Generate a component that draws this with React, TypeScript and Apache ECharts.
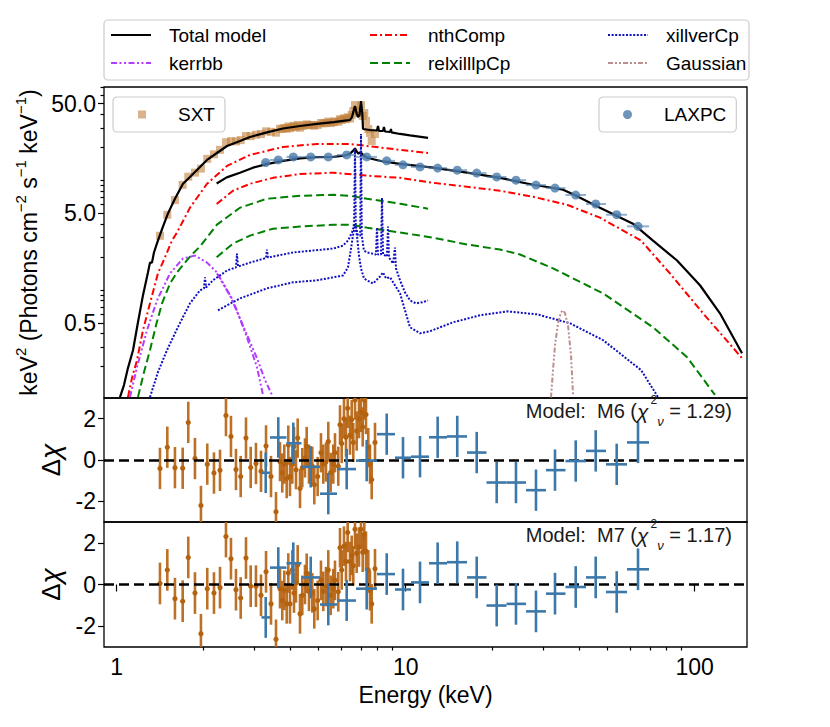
import { useEffect, useRef } from "react";
import * as echarts from "echarts";

const FONT = "'Liberation Sans', Arial, Helvetica, sans-serif";

// ---------- axis ranges & ticks ----------
const X_MIN = 0.904, X_MAX = 151.7;
const Y_MIN = 0.103, Y_MAX = 70.8;
const R_MIN = -3, R_MAX = 3;
const xMajor = [1, 10, 100];
const xMinor = [2, 3, 4, 5, 6, 7, 8, 9, 20, 30, 40, 50, 60, 70, 80, 90];
const yMajor = [0.5, 5, 50];
const yMinor = [0.2, 0.3, 0.4, 0.6, 0.7, 0.8, 0.9, 1, 2, 3, 4, 6, 7, 8, 9, 10, 20, 30, 40, 60, 70];
const rTicks = [-2, 0, 2];

// ---------- model curves (energy keV, keV^2 flux) ----------
const totSxtE = [1.027, 1.06, 1.094, 1.139, 1.185, 1.233, 1.283, 1.304, 1.325, 1.346, 1.389, 1.446, 1.504, 1.591, 1.696, 1.793, 1.896, 2.054, 2.223, 2.409, 2.671, 2.893, 3.31, 3.762, 4.309, 4.933, 5.63, 6.166, 6.417, 6.52, 6.6, 6.678, 6.758, 6.84, 6.92, 7.004, 7.076, 7.117, 7.525, 7.955, 8.02, 8.085, 8.35, 8.41, 8.48, 8.83, 8.897, 8.93, 9.56, 10.35, 11.95];
const totSxtV = [0.105, 0.135, 0.193, 0.281, 0.505, 0.889, 1.44, 1.77, 1.77, 2.19, 2.81, 3.77, 4.95, 6.77, 9.27, 10.7, 12.4, 15.3, 17.7, 20.5, 22.8, 24.8, 27.3, 29.6, 31.2, 32.6, 33.9, 35.0, 35.4, 37.7, 42.7, 47.5, 41.0, 37.7, 39.3, 52.7, 41.0, 29.3, 28.7, 28.4, 31.2, 28.1, 28.1, 30.6, 27.8, 27.5, 29.3, 27.3, 26.4, 25.6, 24.3];
const totLaxE = [2.218, 2.403, 2.671, 2.962, 3.304, 3.762, 4.309, 4.933, 5.63, 6.166, 6.417, 6.57, 6.678, 6.785, 6.867, 6.977, 7.089, 7.346, 8.35, 9.56, 12.43, 16.3, 21.2, 27.57, 32.86, 35.03, 37.94, 47.0, 61.16, 71.74, 86.87, 104.3, 122.3, 145.8];
const totLaxV = [9.33, 10.6, 11.7, 13.0, 14.0, 15.0, 15.8, 16.2, 16.3, 16.8, 17.4, 18.5, 19.5, 18.1, 17.4, 18.1, 17.2, 16.0, 14.8, 14.1, 13.0, 11.7, 10.5, 9.08, 8.44, 8.18, 7.44, 5.61, 4.01, 2.81, 1.85, 1.10, 0.61, 0.264];

const nthSxtE = [1.094, 1.13, 1.176, 1.233, 1.304, 1.389, 1.469, 1.553, 1.617, 1.793, 2.054, 2.409, 2.893, 3.762, 4.933, 6.417, 8.35, 11.95];
const nthSxtV = [0.105, 0.157, 0.228, 0.427, 0.752, 1.41, 1.97, 2.81, 3.33, 5.61, 9.27, 13.5, 17.0, 20.1, 21.4, 21.4, 19.7, 17.7];
const nthLaxE = [2.218, 2.526, 2.893, 3.473, 4.309, 5.63, 7.346, 9.56, 12.43, 16.3, 21.2, 27.57, 36.15, 47.0, 65.25, 82.1, 106.9, 145.8];
const nthLaxV = [6.06, 8.01, 9.27, 10.5, 11.4, 11.7, 11.0, 10.5, 9.47, 8.71, 8.01, 7.06, 5.97, 4.55, 2.81, 1.41, 0.61, 0.238];

const relSxtE = [1.185, 1.243, 1.304, 1.368, 1.435, 1.529, 1.617, 1.793, 1.942, 2.223, 2.671, 3.31, 4.309, 5.63, 6.417, 7.346, 9.56, 11.95];
const relSxtV = [0.105, 0.177, 0.281, 0.474, 0.752, 1.14, 1.44, 2.01, 2.48, 3.93, 5.61, 6.77, 7.21, 7.36, 7.21, 6.77, 6.10, 5.49];
const relLaxE = [2.218, 2.526, 2.893, 3.473, 4.309, 5.63, 6.417, 7.346, 9.56, 12.43, 16.3, 21.2, 24.86, 32.34, 48.2, 71.74, 94.1, 117.5];
const relLaxV = [1.98, 2.64, 3.12, 3.61, 3.77, 3.93, 3.93, 3.69, 3.33, 2.99, 2.59, 2.33, 2.10, 1.57, 0.927, 0.455, 0.243, 0.110];

const xilSxtE = [1.304, 1.389, 1.493, 1.628, 1.793, 1.942, 2.005, 2.021, 2.037, 2.154, 2.409, 2.587, 2.608, 2.629, 2.893, 3.287, 3.31, 3.339, 4.077, 5.63, 6.07, 6.313, 6.52, 6.63, 6.678, 6.72, 6.84, 6.96, 7.004, 7.05, 7.172, 7.346, 7.891, 7.955, 8.02, 8.215, 8.28, 8.35, 8.615, 8.685, 8.755, 9.05, 9.18, 9.256, 9.56, 9.945, 10.35, 10.85, 11.39, 11.95];
const xilSxtV = [0.105, 0.177, 0.281, 0.455, 0.752, 0.987, 1.03, 1.30, 1.05, 1.22, 1.50, 1.60, 2.14, 1.63, 1.77, 1.95, 2.33, 1.97, 2.19, 2.38, 2.53, 2.81, 3.33, 3.85, 19.3, 3.85, 3.12, 3.12, 26.4, 3.12, 2.28, 2.19, 2.10, 3.69, 2.10, 2.10, 6.92, 2.10, 2.01, 3.77, 1.97, 1.74, 2.43, 1.57, 1.22, 0.947, 0.80, 0.752, 0.768, 0.80];
const xilLaxE = [2.241, 2.671, 3.31, 4.077, 4.933, 6.07, 6.313, 6.453, 6.57, 6.678, 6.785, 6.893, 7.004, 7.172, 7.346, 7.706, 8.15, 8.35, 8.55, 8.83, 9.56, 9.945, 10.35, 11.21, 12.14, 14.58, 18.08, 22.41, 28.47, 37.03, 48.2, 65.25, 74.64];
const xilLaxV = [0.650, 0.835, 1.03, 1.17, 1.22, 1.35, 1.60, 2.28, 3.12, 3.85, 3.12, 2.05, 1.57, 1.27, 1.22, 1.14, 1.32, 1.44, 1.27, 1.30, 0.927, 0.650, 0.455, 0.401, 0.419, 0.505, 0.585, 0.636, 0.597, 0.495, 0.347, 0.185, 0.105];

const kerSxtE = [1.112, 1.176, 1.273, 1.379, 1.529, 1.696, 1.866, 2.054, 2.223, 2.526, 2.824, 3.058, 3.208];
const kerSxtV = [0.105, 0.197, 0.427, 0.80, 1.41, 1.93, 2.05, 1.77, 1.44, 0.80, 0.369, 0.197, 0.110];
const kerLaxE = [2.223, 2.466, 2.735, 3.058, 3.261, 3.446];
const kerLaxV = [1.41, 0.889, 0.474, 0.238, 0.150, 0.110];

const gauE = [31.83, 32.34, 32.86, 33.65, 34.46, 35.03, 35.59, 36.45, 37.33, 37.94];
const gauV = [0.104, 0.185, 0.312, 0.495, 0.623, 0.65, 0.61, 0.474, 0.253, 0.110];

// ---------- SXT data ----------
const sxtE = [1.412, 1.497, 1.591, 1.692, 1.769, 1.866, 1.957, 2.058, 2.171, 2.278, 2.389, 2.486, 2.587, 2.686, 2.802, 2.909, 3.034, 3.158, 3.287, 3.42, 3.559, 3.674, 3.741, 3.802, 3.875, 3.925, 3.978, 4.052, 4.107, 4.173, 4.23, 4.309, 4.388, 4.483, 4.544, 4.628, 4.751, 4.828, 4.96, 5.092, 5.187, 5.3, 5.398, 5.502, 5.617, 5.694, 5.846, 5.926, 6.006, 6.117, 6.215, 6.3, 6.417, 6.504, 6.588, 6.678, 6.768, 6.893, 7.004, 7.1, 7.19, 7.289, 7.424, 7.525, 7.628, 7.832];
const sxtFlux = [3.11, 4.83, 6.58, 9.06, 10.76, 11.72, 12.75, 15.65, 17.2, 18.9, 22.2, 22.7, 22.6, 23.2, 25.3, 25.2, 26.0, 26.4, 27.9, 27.6, 27.1, 29.4, 29.4, 29.9, 29.5, 30.9, 29.8, 30.5, 31.3, 30.5, 31.9, 30.1, 31.2, 31.7, 32.3, 31.8, 31.9, 31.4, 31.9, 33.2, 33.0, 33.2, 34.3, 33.2, 33.8, 34.4, 34.1, 36.0, 35.4, 36.7, 36.0, 37.5, 36.5, 39.3, 42.8, 48.4, 42.8, 41.0, 48.4, 38.5, 41.0, 34.7, 29.3, 27.0, 22.8, 26.4];
const sxtRes6 = [-0.41, 0.62, -0.37, -0.4, 1.82, 0.07, -2.2, -0.2, -0.63, -0.5, 2.15, 1.14, -0.46, -0.8, 1.06, -0.36, -0.17, -0.55, 0.68, -0.8, -2.5, -0.08, -0.63, -0.2, -0.9, 0.72, -0.8, -0.2, 0.65, -0.47, 1.06, -1.38, -0.37, 0.1, 0.65, -0.2, -0.3, -1.2, -0.8, 0.35, -0.2, -0.1, 0.9, -0.6, -0.2, 0.35, -0.3, 1.7, 0.8, 2.0, 1.1, 2.5, 1.2, 1.95, 0.85, 2.9, 1.4, 2.0, 2.3, 1.6, 2.9, 2.2, 0.6, -0.2, -0.95, 0.85];
const sxtRes7 = [0.05, 0.7, -0.68, -0.8, 1.3, -0.41, -2.36, -0.2, -0.41, -0.15, 2.3, 1.24, -0.25, -0.65, 1.27, -0.08, -0.08, -0.52, 0.61, -0.93, -2.63, -0.2, -0.77, -0.28, -0.93, 0.55, -0.93, 0.7, -0.41, 0.08, 0.94, -1.41, -0.52, 0, 0.54, -0.33, -0.4, -1.17, -0.77, 0.2, -0.33, -0.1, 0.7, -0.52, -0.2, 0.2, -0.35, 1.76, 0.7, 1.84, 1.1, 2.5, 1.1, 1.4, 0.9, 2.65, 1.5, 1.8, 2.65, 1.55, 2.4, 1.6, 0.7, -0.3, -0.93, 0.76];
const sxtErr = [1.0, 1.0, 1.0, 1.0, 1.0, 1.0, 0.95, 1.0, 1.0, 1.0, 1.0, 1.0, 1.0, 1.0, 1.0, 1.0, 1.0, 1.0, 1.0, 1.0, 0.95, 0.95, 0.95, 0.95, 0.95, 0.95, 0.95, 0.95, 0.95, 0.95, 0.95, 0.95, 0.95, 0.95, 0.95, 0.95, 0.95, 0.95, 0.95, 0.95, 0.95, 0.95, 0.95, 0.95, 0.95, 0.95, 0.95, 0.95, 0.95, 0.95, 0.95, 0.95, 0.95, 0.95, 0.95, 0.95, 0.95, 0.95, 0.95, 0.95, 0.95, 0.95, 0.95, 0.95, 0.95, 0.95];

// ---------- LAXPC data ----------
const laxE = [3.279, 3.624, 4.085, 4.693, 5.398, 6.25, 7.329, 8.597, 9.788, 11.21, 12.9, 15.08, 17.61, 20.65, 24.08, 28.24, 32.86, 38.75, 45.44, 53.72, 63.66];
const laxElo = [3.17, 3.393, 3.868, 4.359, 5.053, 5.785, 6.73, 7.955, 9.183, 10.43, 12.04, 13.9, 16.3, 19.04, 22.33, 26.09, 30.59, 35.72, 42.06, 49.33, 58.32];
const laxEhi = [3.393, 3.868, 4.359, 5.053, 5.785, 6.73, 7.955, 9.183, 10.43, 12.04, 13.9, 16.3, 19.04, 22.33, 26.09, 30.59, 35.72, 42.06, 49.33, 58.32, 69.5];
const laxFlux = [14.5, 15.3, 16.3, 16.3, 16.3, 17.0, 16.3, 15.0, 13.8, 13.2, 12.9, 12.35, 11.6, 10.7, 10.0, 9.03, 8.47, 7.32, 6.06, 4.84, 3.79];
const laxRes6 = [-0.62, 1.09, 0.81, -0.33, -1.63, -0.44, -0.03, 1.25, 0.11, 0.16, 1.1, 1.14, 0.36, -1.09, -1.09, -1.46, -0.49, -0.05, 0.44, -0.21, 0.85];
const laxRes7 = [-1.58, 0.81, 1.02, 0.34, -0.96, -0.77, -0.2, 0.5, -0.24, 0.1, 1.02, 1.07, 0.34, -1.01, -0.93, -1.29, -0.44, -0.12, 0.34, -0.36, 0.73];
const laxErr = [0.98, 0.98, 1.0, 1.0, 1.0, 0.98, 1.0, 1.0, 1.0, 1.0, 1.0, 1.0, 1.0, 1.0, 1.0, 1.0, 1.0, 1.0, 1.0, 1.0, 1.0];

// ---------- colours ----------
const SXT_TOP = "#c2803c";
const SXT_RES = "#b5620e";
const LAX_TOP = "#4a7aab";
const LAX_RES = "#3d78aa";

const zip = (a: number[], b: number[]) => a.map((x, i) => [x, b[i]]);

function buildOption(): any {
  const grid = (top: number, height: number) => ({
    left: 104, width: 643, top, height, show: true, borderColor: "#000", borderWidth: 1.3,
    backgroundColor: "transparent", containLabel: false, outerBoundsMode: "none",
  });
  const hiddenX = (gridIndex: number) => ({
    type: "log", logBase: 10, gridIndex, min: X_MIN, max: X_MAX,
    axisLine: { show: false }, axisTick: { show: false }, axisLabel: { show: false }, splitLine: { show: false },
  });
  const tickStyle = { color: "#000", width: 1.2 };
  const resY = (gridIndex: number) => ({
    type: "value", gridIndex, min: R_MIN, max: R_MAX,
    axisLine: { show: false }, splitLine: { show: false },
    axisTick: { show: true, customValues: rTicks, length: 6, lineStyle: tickStyle },
    axisLabel: { show: true, customValues: rTicks, formatter: (v: number) => String(v), fontSize: 23, color: "#000", margin: 8, fontFamily: FONT },
    name: "{d|Δ}{c|χ}", nameLocation: "middle", nameGap: 38, nameRotate: 90,
    nameTextStyle: { color: "#000", rich: { d: { fontSize: 26, fontFamily: FONT, lineHeight: 28 }, c: { fontSize: 28, fontStyle: "italic", fontFamily: FONT, lineHeight: 28 } } },
  });

  const line = (name: string, e: number[], v: number[], color: string, type: any, width = 2) => ({
    name, type: "line", xAxisIndex: 0, yAxisIndex: 0, data: zip(e, v), showSymbol: false, symbol: "none",
    lineStyle: { color, width, type }, itemStyle: { color, opacity: 0 }, z: 3, silent: true, clip: true, animation: false,
  });
  const DASHDOT = [7, 3, 2, 3];
  const DASHDOTDOT = [6, 2.5, 2, 2.5, 2, 2.5];
  const DASHED = [8, 4];
  const DOTTED = [2, 1.6];
  const GAUSS = [5, 2, 2, 2, 2, 2];

  const sxtResItem = (_p: any, api: any) => {
    const e = api.value(0), r = api.value(1), err = api.value(2);
    const t = api.coord([e, r + err]);
    const b = api.coord([e, r - err]);
    const c = api.coord([e, r]);
    return {
      type: "group",
      children: [
        { type: "line", shape: { x1: t[0], y1: t[1], x2: b[0], y2: b[1] }, style: { stroke: SXT_RES, lineWidth: 2.6, opacity: 0.9 } },
        { type: "circle", shape: { cx: c[0], cy: c[1], r: 2.6 }, style: { fill: SXT_RES } },
      ],
    };
  };
  const laxResItem = (_p: any, api: any) => {
    const e = api.value(0), r = api.value(1), lo = api.value(2), hi = api.value(3), err = api.value(4);
    const a = api.coord([lo, r]), b = api.coord([hi, r]);
    const t = api.coord([e, r + err]), d = api.coord([e, r - err]);
    return {
      type: "group",
      children: [
        { type: "line", shape: { x1: a[0], y1: a[1], x2: b[0], y2: b[1] }, style: { stroke: LAX_RES, lineWidth: 2.6 } },
        { type: "line", shape: { x1: t[0], y1: t[1], x2: d[0], y2: d[1] }, style: { stroke: LAX_RES, lineWidth: 2.6 } },
      ],
    };
  };
  const laxTopErr = (_p: any, api: any) => {
    const v = api.value(1);
    const a = api.coord([api.value(2), v]), b = api.coord([api.value(3), v]);
    return { type: "line", shape: { x1: a[0], y1: a[1], x2: b[0], y2: b[1] }, style: { stroke: LAX_TOP, lineWidth: 2, opacity: 0.6 } };
  };
  const zeroLine = (xi: number, yi: number) => ({
    type: "line", xAxisIndex: xi, yAxisIndex: yi, data: [], z: 10, silent: true,
    markLine: { silent: true, symbol: ["none", "none"], label: { show: false }, animation: false,
      lineStyle: { color: "#000", width: 2.6, type: [10, 5] }, data: [{ yAxis: 0 }] },
  });

  const mainLegend = (left: number, data: string[]) => ({
    left, top: 25, orient: "vertical", data, selectedMode: false, itemWidth: 40, itemHeight: 14, itemGap: 8, padding: 0,
    itemStyle: { opacity: 0 },
    textStyle: { fontSize: 19, color: "#000", fontFamily: FONT, lineHeight: 20, padding: [0, 0, 0, 13] },
  });
  const boxLegend = (left: number, name: string, size: number, padL: number, textPad: number) => ({
    left, top: 97, orient: "vertical", data: [name], selectedMode: false, itemWidth: size, itemHeight: size,
    padding: [8, 10, 8, padL], borderColor: "#cccccc", borderWidth: 1.2, borderRadius: 4,
    backgroundColor: "rgba(255,255,255,0.8)",
    textStyle: { fontSize: 19, color: "#000", fontFamily: FONT, lineHeight: 18, padding: [0, 0, 0, textPad] },
  });

  const annot = (y: number, model: string, chi: string) => ({
    type: "text", x: 732, y, z: 20,
    style: {
      text: `{a|Model:\u00a0 ${model} (}{c|χ}{s|2}{b|ν}{a| = ${chi})}`,
      align: "right", verticalAlign: "middle", fill: "#1a1a1a", fontFamily: FONT,
      rich: {
        a: { fontSize: 20, lineHeight: 34, fontFamily: FONT },
        c: { fontSize: 21, lineHeight: 34, fontStyle: "italic", fontFamily: FONT, padding: [0, 2, 0, 0] },
        s: { fontSize: 12, lineHeight: 12, verticalAlign: "top", fontFamily: FONT },
        b: { fontSize: 13, lineHeight: 12, verticalAlign: "bottom", fontStyle: "italic", fontFamily: FONT },
      },
    },
  });

  return {
    animation: false,
    backgroundColor: "#fff",
    textStyle: { fontFamily: FONT },
    grid: [grid(87, 311), grid(398, 124), grid(522, 125)],
    xAxis: [
      hiddenX(0),
      hiddenX(1),
      {
        type: "log", logBase: 10, gridIndex: 2, min: X_MIN, max: X_MAX,
        axisLine: { show: false }, splitLine: { show: false },
        axisTick: { show: true, customValues: xMajor, length: 7, lineStyle: tickStyle },
        axisLabel: { show: true, customValues: xMajor, formatter: (v: number) => String(v), fontSize: 23, color: "#000", margin: 8, fontFamily: FONT },
        name: "Energy (keV)", nameLocation: "middle", nameGap: 36,
        nameTextStyle: { fontSize: 23, color: "#000", fontFamily: FONT },
      },
      {
        type: "log", logBase: 10, gridIndex: 2, min: X_MIN, max: X_MAX, position: "bottom",
        axisLine: { show: false }, splitLine: { show: false }, axisLabel: { show: false },
        axisTick: { show: true, customValues: xMinor, length: 3.5, lineStyle: tickStyle },
      },
    ],
    yAxis: [
      {
        type: "log", logBase: 10, gridIndex: 0, min: Y_MIN, max: Y_MAX,
        axisLine: { show: false }, splitLine: { show: false },
        axisTick: { show: true, customValues: yMajor, length: 6, lineStyle: tickStyle },
        axisLabel: { show: true, customValues: yMajor, formatter: (v: number) => v.toFixed(1), fontSize: 23, color: "#000", margin: 8, fontFamily: FONT },
        name: "{t|keV}{s|2}{t| (Photons cm}{s|−2}{t| s}{s|−1}{t| keV}{s|−1}{t|)}",
        nameLocation: "middle", nameGap: 58, nameRotate: 90,
        nameTextStyle: {
          color: "#000",
          rich: {
            t: { fontSize: 23, lineHeight: 32, fontFamily: FONT },
            s: { fontSize: 15, lineHeight: 15, verticalAlign: "top", fontFamily: FONT },
          },
        },
      },
      {
        type: "log", logBase: 10, gridIndex: 0, min: Y_MIN, max: Y_MAX, position: "left",
        axisLine: { show: false }, splitLine: { show: false }, axisLabel: { show: false },
        axisTick: { show: true, customValues: yMinor, length: 3.5, lineStyle: tickStyle },
      },
      resY(1),
      resY(2),
    ],
    legend: [
      mainLegend(110, ["Total model", "kerrbb"]),
      mainLegend(369, ["nthComp", "relxilllpCp"]),
      mainLegend(607, ["xillverCp", "Gaussian"]),
      boxLegend(113, "SXT", 8, 25, 27),
      boxLegend(599, "LAXPC", 9, 24, 27),
    ],
    graphic: [
      { type: "rect", z: -10, shape: { x: 104, y: 20, width: 645, height: 60, r: 4 }, style: { fill: "rgba(255,255,255,0.8)", stroke: "#cccccc", lineWidth: 1.2 } },
      annot(411, "M6", "1.29"),
      annot(535, "M7", "1.17"),
    ],
    series: [
      {
        name: "SXT", type: "scatter", xAxisIndex: 0, yAxisIndex: 0, data: zip(sxtE, sxtFlux),
        symbol: "rect", symbolSize: 8, itemStyle: { color: SXT_TOP, opacity: 0.6 }, z: 2, silent: true,
      },
      line("Total model", totSxtE, totSxtV, "#000000", "solid", 2.2),
      line("Total model", totLaxE, totLaxV, "#000000", "solid", 2.2),
      line("kerrbb", kerSxtE, kerSxtV, "#b23cff", DASHDOTDOT),
      line("kerrbb", kerLaxE, kerLaxV, "#b23cff", DASHDOTDOT),
      line("nthComp", nthSxtE, nthSxtV, "#ff0000", DASHDOT),
      line("nthComp", nthLaxE, nthLaxV, "#ff0000", DASHDOT),
      line("relxilllpCp", relSxtE, relSxtV, "#008000", DASHED),
      line("relxilllpCp", relLaxE, relLaxV, "#008000", DASHED),
      line("xillverCp", xilSxtE, xilSxtV, "#1010c0", DOTTED),
      line("xillverCp", xilLaxE, xilLaxV, "#1010c0", DOTTED),
      line("Gaussian", gauE, gauV, "#bc8f8f", GAUSS),
      {
        name: "LAXPC-xerr", type: "custom", xAxisIndex: 0, yAxisIndex: 0, clip: true, z: 4, silent: true,
        data: laxE.map((e, i) => [e, laxFlux[i], laxElo[i], laxEhi[i]]),
        encode: { x: 0, y: 1 }, renderItem: laxTopErr,
      },
      {
        name: "LAXPC", type: "scatter", xAxisIndex: 0, yAxisIndex: 0, data: zip(laxE, laxFlux),
        symbol: "circle", symbolSize: 9, itemStyle: { color: LAX_TOP, opacity: 0.8 }, z: 5, silent: true,
      },
      {
        name: "sxt-r6", type: "custom", xAxisIndex: 1, yAxisIndex: 2, clip: true, z: 4, silent: true,
        data: sxtE.map((e, i) => [e, sxtRes6[i], sxtErr[i]]), encode: { x: 0, y: 1 }, renderItem: sxtResItem,
      },
      {
        name: "lax-r6", type: "custom", xAxisIndex: 1, yAxisIndex: 2, clip: true, z: 5, silent: true,
        data: laxE.map((e, i) => [e, laxRes6[i], laxElo[i], laxEhi[i], laxErr[i]]), encode: { x: 0, y: 1 }, renderItem: laxResItem,
      },
      {
        name: "sxt-r7", type: "custom", xAxisIndex: 2, yAxisIndex: 3, clip: true, z: 4, silent: true,
        data: sxtE.map((e, i) => [e, sxtRes7[i], sxtErr[i]]), encode: { x: 0, y: 1 }, renderItem: sxtResItem,
      },
      {
        name: "lax-r7", type: "custom", xAxisIndex: 2, yAxisIndex: 3, clip: true, z: 5, silent: true,
        data: laxE.map((e, i) => [e, laxRes7[i], laxElo[i], laxEhi[i], laxErr[i]]), encode: { x: 0, y: 1 }, renderItem: laxResItem,
      },
      zeroLine(1, 2),
      zeroLine(2, 3),
    ],
  };
}

export default function App() {
  const ref = useRef<HTMLDivElement>(null);
  useEffect(() => {
    if (!ref.current) return;
    const chart = echarts.init(ref.current, null, { renderer: "svg" });
    chart.setOption(buildOption());
    return () => chart.dispose();
  }, []);
  return (
    <div
      ref={ref}
      style={{ position: "fixed", left: 0, top: 0, width: 830, height: 727, background: "#fff" }}
    />
  );
}
